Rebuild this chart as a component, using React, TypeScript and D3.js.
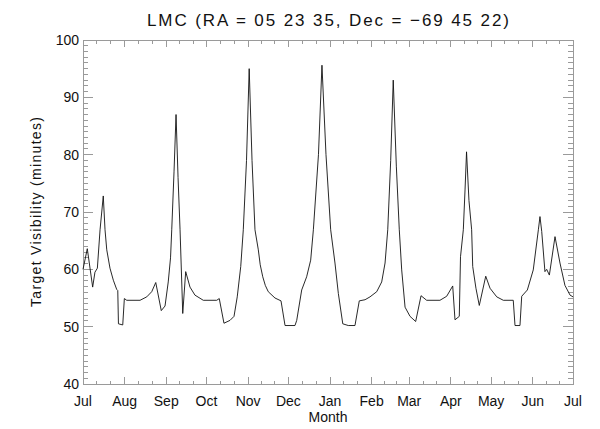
import React from "react";
import * as d3 from "d3";

const monthLabels = ["Jul", "Aug", "Sep", "Oct", "Nov", "Dec", "Jan", "Feb", "Mar", "Apr", "May", "Jun", "Jul"];
const monthStartDays = [0, 31, 62, 92, 123, 153, 184, 215, 243, 274, 304, 335, 365];
const yTickValues = [40, 50, 60, 70, 80, 90, 100];

const dayValues = [
  0, 3.2, 7.2, 8.9, 10.7, 12.7, 15.1, 16.4, 17.7, 20.1, 22.6, 25.1, 25.9, 26.4, 29.6, 30.8, 32.6,
  42.5, 47.5, 51.2, 54.2, 58.3, 61.1, 63.5, 65.2, 66.1, 67.8, 69.3, 70.8, 72.3, 74.3, 76.5, 79.7,
  83.4, 89.6, 99.6, 101.5, 105.0, 109.5, 112.5, 114.9, 117.5, 119.4, 121.8, 123.8, 125.9, 128.1,
  130.6, 132.0, 133.9, 135.8, 138.0, 143.0, 147.5, 150.5, 157.9, 159.2, 162.9, 166.6, 169.6, 171.6, 175.4, 178.0,
  181.0, 184.5, 187.7, 190.2, 193.5, 197.6, 202.6, 205.8, 210.1, 213.8, 218.8, 222.5, 225.0, 227.0,
  229.2, 231.1, 233.4, 235.6, 237.4, 239.9, 243.6, 247.8, 251.8, 256.0, 265.9, 270.9, 275.4, 277.1,
  280.3, 281.2, 283.3, 284.6, 285.7, 287.5, 289.5, 290.3, 292.7, 295.2, 300.0, 303.2, 308.2, 313.1,
  320.5, 321.8, 325.5, 326.8, 331.0, 335.4, 339.2, 340.4, 341.7, 344.1, 345.4, 347.4, 351.6, 355.3,
  359.0, 362.8, 365.0,
];

const visibilityMinutes = [
  60.0, 63.6, 56.9, 59.5, 60.2, 66.9, 72.8, 66.9, 63.4, 60.2, 58.1, 56.5, 56.3, 50.5, 50.3, 54.9, 54.6,
  54.6, 55.2, 56.1, 57.7, 52.8, 53.6, 57.8, 62.0, 66.9, 77.0, 87.0, 76.0, 66.9, 52.3, 59.6, 56.9,
  55.5, 54.6, 54.6, 54.9, 50.6, 51.1, 51.8, 55.2, 60.5, 66.9, 79.0, 95.0, 79.0, 66.9,
  63.4, 60.8, 58.7, 57.2, 56.1, 55.0, 54.5, 50.2, 50.2, 51.1, 56.4, 58.7, 61.6, 66.9, 80.0, 95.6,
  80.0, 66.9, 61.1, 55.8, 50.5, 50.2, 50.2, 54.5, 54.7, 55.2, 56.1, 57.8, 61.1, 66.9,
  79.0, 93.0, 78.0, 66.9, 59.9, 53.4, 51.8, 50.9, 55.4, 54.6, 54.6, 55.3, 57.1, 51.2,
  51.8, 62.2, 66.9, 74.0, 80.5, 72.0, 66.9, 60.5, 56.7, 53.7, 58.8, 56.7, 55.2, 54.6,
  54.6, 50.2, 50.2, 55.3, 56.4, 59.9, 66.9, 69.2, 66.6, 59.6, 60.0, 59.0, 65.7, 61.1,
  57.2, 55.5, 55.2,
];

const titleText = "LMC (RA = 05 23 35, Dec = \u221269 45 22)";
const xTitle = "Month";
const yTitle = "Target Visibility (minutes)";

export default function App() {
  const W = 600, H = 429;
  const L = 83, R = 573, T = 40, B = 384;
  const x = d3.scaleLinear().domain([0, 365]).range([L, R]);
  const y = d3.scaleLinear().domain([40, 100]).range([B, T]);

  const pts: [number, number][] = dayValues.map((d, i) => [d, visibilityMinutes[i]]);
  const line = d3.line<[number, number]>().x((p) => x(p[0])).y((p) => y(p[1]));

  const xMinor: number[] = [];
  for (let i = 0; i < monthStartDays.length - 1; i++) {
    const a = monthStartDays[i], b = monthStartDays[i + 1];
    xMinor.push(a + (b - a) / 3, a + (2 * (b - a)) / 3);
  }
  const yMinor = d3.range(40, 101, 1).filter((v) => v % 10 !== 0);

  const axisColor = "#9a9a9a";
  const font = "'Liberation Sans', Arial, sans-serif";
  const xMaj = 7, xMin = 3.5, yMaj = 10, yMin = 5;

  return (
    <div style={{ position: "fixed", left: 0, top: 0 }}>
      <svg width={W} height={H} style={{ display: "block", background: "#fff" }}>
        <rect x={0} y={0} width={W} height={H} fill="#fff" />
        <g stroke={axisColor} strokeWidth={1} shapeRendering="crispEdges">
          <rect x={L} y={T} width={R - L} height={B - T} fill="none" />
          {monthStartDays.map((d, i) => (
            <g key={"xm" + i}>
              <line x1={x(d)} x2={x(d)} y1={B} y2={B - xMaj} />
              <line x1={x(d)} x2={x(d)} y1={T} y2={T + xMaj} />
            </g>
          ))}
          {xMinor.map((d, i) => (
            <g key={"xn" + i}>
              <line x1={x(d)} x2={x(d)} y1={B} y2={B - xMin} />
              <line x1={x(d)} x2={x(d)} y1={T} y2={T + xMin} />
            </g>
          ))}
          {yTickValues.map((v, i) => (
            <g key={"ym" + i}>
              <line x1={L} x2={L + yMaj} y1={y(v)} y2={y(v)} />
              <line x1={R} x2={R - yMaj} y1={y(v)} y2={y(v)} />
            </g>
          ))}
          {yMinor.map((v, i) => (
            <g key={"yn" + i}>
              <line x1={L} x2={L + yMin} y1={y(v)} y2={y(v)} />
              <line x1={R} x2={R - yMin} y1={y(v)} y2={y(v)} />
            </g>
          ))}
        </g>
        <path d={line(pts) || ""} fill="none" stroke="#111" strokeWidth={0.9} strokeLinejoin="round" />
        <g fontFamily={font} fontSize={14} fill="#111">
          {yTickValues.map((v, i) => (
            <text key={"yl" + i} x={L - 4} y={y(v) + 5} textAnchor="end">{v}</text>
          ))}
          {monthLabels.map((m, i) => (
            <text key={"xl" + i} x={x(monthStartDays[i])} y={406} textAnchor="middle">{m}</text>
          ))}
          <text x={(L + R) / 2} y={422} textAnchor="middle">{xTitle}</text>
          <text transform={`translate(41, ${(T + B) / 2}) rotate(-90)`} textAnchor="middle"
            textLength={190} lengthAdjust="spacing">{yTitle}</text>
        </g>
        <text x={(L + R) / 2} y={26} textAnchor="middle" fontFamily={font} fontSize={17} fill="#111"
          textLength={362} lengthAdjust="spacing">{titleText}</text>
      </svg>
    </div>
  );
}
